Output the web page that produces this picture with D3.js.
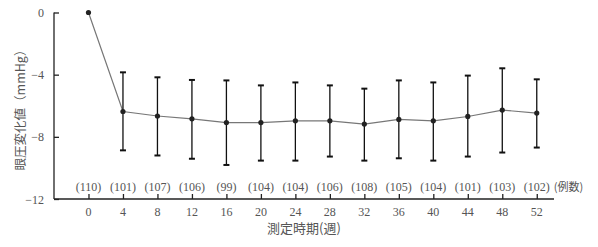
<!DOCTYPE html>
<html><head><meta charset="utf-8">
<script src="https://cdn.jsdelivr.net/npm/d3@7"></script>
<style>body{margin:0;background:#fff}svg{display:block}</style>
</head><body>
<script>
const weeks = [0,4,8,12,16,20,24,28,32,36,40,44,48,52];
const means = [0,-6.37,-6.66,-6.84,-7.08,-7.08,-6.97,-6.97,-7.18,-6.88,-6.97,-6.69,-6.28,-6.47];
const upper = [null,-3.85,-4.17,-4.34,-4.37,-4.69,-4.5,-4.69,-4.9,-4.37,-4.5,-4.06,-3.59,-4.3];
const lower = [null,-8.87,-9.2,-9.41,-9.81,-9.53,-9.53,-9.27,-9.53,-9.38,-9.53,-9.27,-9.01,-8.69];
const counts = ["(110)","(101)","(107)","(106)","(99)","(104)","(104)","(106)","(108)","(105)","(104)","(101)","(103)","(102)"];
const yTicks = [0,-4,-8,-12];
const yTickLabels = ["0","\u22124","\u22128","\u221212"];
const yTitle = "眼圧変化値（mmHg）";
const xTitle = "測定時期(週)";
const countTitle = "(例数)";

const W=598,H=247;
const svg=d3.select("body").append("svg").attr("width",W).attr("height",H);
const x=d3.scaleLinear().domain([-4,54]).range([54,554]);
const y=d3.scaleLinear().domain([-12,0]).range([199,12.5]);
const serif="'Liberation Serif','DejaVu Serif',serif";
const cjk="'Noto Sans CJK JP',sans-serif";
const txt="#555";

// y axis
const yAx=svg.append("g").attr("transform",`translate(${x(-4)},0)`)
  .call(d3.axisRight(y).tickValues(yTicks).tickSize(5).tickFormat(""));
yAx.select(".domain").attr("d",`M0,${y(0)}V${y(-12)}`).attr("stroke","#222").attr("stroke-width",1.3);
yAx.selectAll(".tick line").attr("stroke","#222").attr("stroke-width",1.3);
svg.selectAll(".ylab").data(yTicks).enter().append("text")
  .attr("x",44).attr("y",d=>y(d)+4.5).attr("text-anchor","end")
  .attr("font-family",serif).attr("font-size",12).attr("fill",txt)
  .text((d,i)=>yTickLabels[i]);

// x axis
const xAx=svg.append("g").attr("transform",`translate(0,${y(-12)})`)
  .call(d3.axisTop(x).tickValues(weeks).tickSize(5).tickFormat(""));
xAx.select(".domain").attr("d",`M${x(-4)},0H${x(54)}`).attr("stroke","#222").attr("stroke-width",1.3);
xAx.selectAll(".tick line").attr("stroke","#222").attr("stroke-width",1.3);
svg.selectAll(".xlab").data(weeks).enter().append("text")
  .attr("x",d=>x(d)).attr("y",216).attr("text-anchor","middle")
  .attr("font-family",serif).attr("font-size",12).attr("fill",txt).text(d=>d);

// counts
svg.selectAll(".cnt").data(weeks).enter().append("text")
  .attr("x",d=>x(d)).attr("y",191).attr("text-anchor","middle")
  .attr("font-family",serif).attr("font-size",12).attr("fill",txt).text((d,i)=>counts[i]);
svg.append("text").attr("x",x(52)+17).attr("y",191).attr("text-anchor","start")
  .attr("font-family",cjk).attr("font-size",11).attr("fill",txt).text(countTitle);

// titles
svg.append("text").attr("x",x(25)).attr("y",233).attr("text-anchor","middle")
  .attr("font-family",cjk).attr("font-size",13).attr("fill",txt).text(xTitle);
svg.append("text").attr("transform",`translate(25,107) rotate(-90)`)
  .attr("text-anchor","middle").attr("font-family",cjk).attr("font-size",12.5).attr("fill",txt).text(yTitle);

// line
const pts=weeks.map((w,i)=>({w,m:means[i],u:upper[i],l:lower[i]}));
svg.append("path").datum(pts).attr("fill","none").attr("stroke","#777").attr("stroke-width",1.2)
  .attr("d",d3.line().x(d=>x(d.w)).y(d=>y(d.m)));

// error bars
const eb=pts.filter(d=>d.u!==null);
const g=svg.append("g").attr("stroke","#111");
g.selectAll(".v").data(eb).enter().append("line")
  .attr("x1",d=>x(d.w)).attr("x2",d=>x(d.w)).attr("y1",d=>y(d.u)).attr("y2",d=>y(d.l)).attr("stroke-width",1.3);
g.selectAll(".cu").data(eb).enter().append("line")
  .attr("x1",d=>x(d.w)-3).attr("x2",d=>x(d.w)+3).attr("y1",d=>y(d.u)).attr("y2",d=>y(d.u)).attr("stroke-width",2);
g.selectAll(".cl").data(eb).enter().append("line")
  .attr("x1",d=>x(d.w)-3).attr("x2",d=>x(d.w)+3).attr("y1",d=>y(d.l)).attr("y2",d=>y(d.l)).attr("stroke-width",2);

// points
svg.selectAll(".pt").data(pts).enter().append("circle")
  .attr("cx",d=>x(d.w)).attr("cy",d=>y(d.m)).attr("r",2.6).attr("fill","#222");
</script>
</body></html>
